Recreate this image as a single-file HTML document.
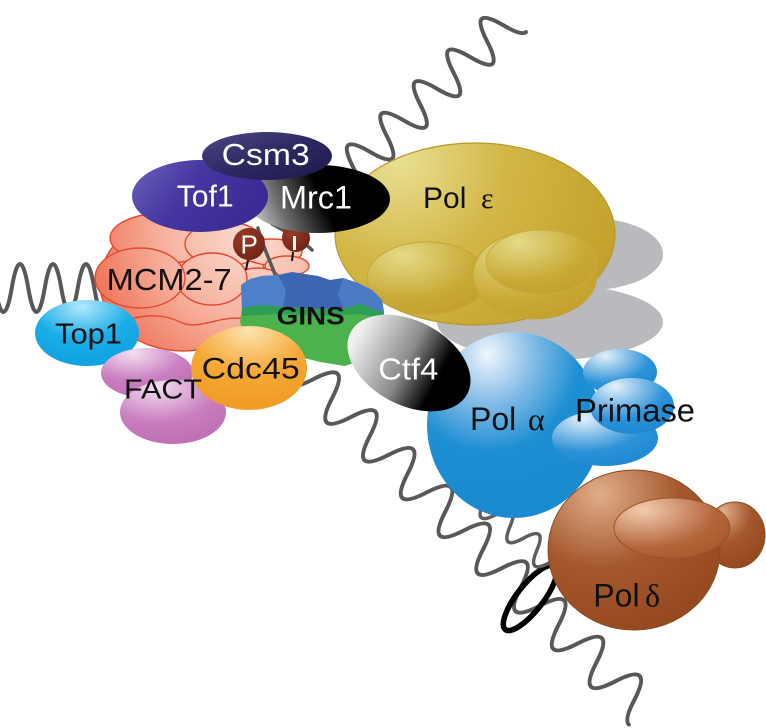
<!DOCTYPE html>
<html>
<head>
<meta charset="utf-8">
<style>
  html,body{margin:0;padding:0;background:#fff;}
  svg{display:block;}
  text{font-family:"Liberation Sans", Arial, sans-serif;}
  .g{font-family:"Liberation Serif", serif;}
</style>
</head>
<body>
<svg width="766" height="728" viewBox="0 0 766 728" xmlns="http://www.w3.org/2000/svg">
<defs>
  <radialGradient id="gPolE" gradientUnits="userSpaceOnUse" cx="400" cy="160" r="240">
    <stop offset="0" stop-color="#e9df92"/>
    <stop offset="0.45" stop-color="#d2b645"/>
    <stop offset="1" stop-color="#c29f2a"/>
  </radialGradient>
  <radialGradient id="gLobe" cx="0.3" cy="0.2" r="0.85">
    <stop offset="0" stop-color="#e4da88"/>
    <stop offset="0.7" stop-color="#c9aa36"/>
    <stop offset="1" stop-color="#c3a12c"/>
  </radialGradient>
  <radialGradient id="gMCM" gradientUnits="userSpaceOnUse" cx="250" cy="235" r="170">
    <stop offset="0" stop-color="#fbdcd0"/>
    <stop offset="0.5" stop-color="#f7b3a0"/>
    <stop offset="1" stop-color="#ee6f53"/>
  </radialGradient>
  <linearGradient id="gCsm3" x1="0" y1="0" x2="1" y2="1">
    <stop offset="0" stop-color="#4d4a88"/>
    <stop offset="0.5" stop-color="#2d2862"/>
    <stop offset="1" stop-color="#1e1a4a"/>
  </linearGradient>
  <linearGradient id="gTof1" x1="0" y1="0" x2="1" y2="0.4">
    <stop offset="0" stop-color="#6b62ba"/>
    <stop offset="0.5" stop-color="#4535a0"/>
    <stop offset="1" stop-color="#3c2b94"/>
  </linearGradient>
  <linearGradient id="gMrc1" gradientUnits="userSpaceOnUse" x1="250" y1="218" x2="318" y2="188">
    <stop offset="0" stop-color="#d0d0d0"/>
    <stop offset="0.45" stop-color="#6a6a6a"/>
    <stop offset="1" stop-color="#000"/>
  </linearGradient>
  <linearGradient id="gCtf4" gradientUnits="userSpaceOnUse" x1="350" y1="0" x2="462" y2="0">
    <stop offset="0" stop-color="#f0f0f0"/>
    <stop offset="0.5" stop-color="#8a8a8a"/>
    <stop offset="0.82" stop-color="#000"/>
    <stop offset="1" stop-color="#000"/>
  </linearGradient>
  <radialGradient id="gTop1" cx="0.45" cy="0.1" r="0.8">
    <stop offset="0" stop-color="#b2e8fb"/>
    <stop offset="0.6" stop-color="#1aaee9"/>
    <stop offset="1" stop-color="#12a4e2"/>
  </radialGradient>
  <radialGradient id="gFACT" cx="0.35" cy="0.1" r="0.85">
    <stop offset="0" stop-color="#f4dff0"/>
    <stop offset="0.65" stop-color="#c97ec0"/>
    <stop offset="1" stop-color="#c072b7"/>
  </radialGradient>
  <radialGradient id="gCdc45" cx="0.5" cy="0.05" r="0.85">
    <stop offset="0" stop-color="#fde3b0"/>
    <stop offset="0.6" stop-color="#f5a835"/>
    <stop offset="1" stop-color="#f19e28"/>
  </radialGradient>
  <radialGradient id="gPolA" cx="0.35" cy="0.12" r="0.8">
    <stop offset="0" stop-color="#f0f6fc"/>
    <stop offset="0.3" stop-color="#8dc0e9"/>
    <stop offset="0.65" stop-color="#1f8fd3"/>
    <stop offset="1" stop-color="#1b8bd0"/>
  </radialGradient>
  <radialGradient id="gPrim" cx="0.3" cy="0.15" r="0.85">
    <stop offset="0" stop-color="#e4f0fa"/>
    <stop offset="0.7" stop-color="#2c92d8"/>
    <stop offset="1" stop-color="#1f8bd3"/>
  </radialGradient>
  <radialGradient id="gPolD" cx="0.3" cy="0.15" r="0.85">
    <stop offset="0" stop-color="#e0ae8a"/>
    <stop offset="0.55" stop-color="#a4572c"/>
    <stop offset="1" stop-color="#974a20"/>
  </radialGradient>
  <radialGradient id="gPolDl" cx="0.25" cy="0.2" r="0.9">
    <stop offset="0" stop-color="#f2ccb0"/>
    <stop offset="0.7" stop-color="#b4653a"/>
    <stop offset="1" stop-color="#a85a2e"/>
  </radialGradient>
  <radialGradient id="gP" cx="0.35" cy="0.3" r="0.8">
    <stop offset="0" stop-color="#9a3a28"/>
    <stop offset="1" stop-color="#6e2315"/>
  </radialGradient>
</defs>

<!-- Pol epsilon shadow -->
<g fill="#b9babd">
  <ellipse cx="590" cy="254" rx="73" ry="36"/>
  <ellipse cx="550" cy="322" rx="113" ry="38"/>
</g>

<!-- DNA strands (back) -->
<g fill="none" stroke="#585858" stroke-width="4" stroke-linecap="round">
  <path d="M-4.75,288 Q3.5,336 11.75,288 T28.25,288 T44.75,288 T61.25,288 T77.75,288 T94.25,288 T110.75,288 T127.25,288"/>
  <path transform="translate(348.7,172.2) rotate(-43.4)" d="M-16.5,0 Q-5,40 6.5,0 T29.5,0 T52.5,0 T75.5,0 T98.5,0 T121.5,0 T144.5,0 T167.5,0 T190.5,0 T213.5,0 Q219.25,20 225,20"/>
  <path transform="translate(334,400) rotate(45)" d="M-56.05,0 Q-42.7,42 -29.35,0 T-2.65,0 T24.05,0 T50.75,0 T77.45,0 T104.15,0 T130.85,0 T157.55,0 T184.25,0 T210.95,0 T237.65,0 T264.35,0 T291.05,0 T317.75,0 T344.45,0 T371.15,0 T397.85,0 T424.55,0 Q431.2,21 437.9,21"/>
</g>

<!-- ring -->
<ellipse cx="530" cy="598" rx="40" ry="13" transform="rotate(-52 530 598)" fill="none" stroke="#000" stroke-width="5.5"/>

<!-- second strand -->
<path transform="translate(470,490) rotate(42)" d="M0,0 Q9,-26 18,0 T36,0 T54,0 T72,0 T90,0 T108,0 T126,0 T144,0 T162,0" fill="none" stroke="#5e5e5e" stroke-width="3.5" stroke-linecap="round"/>

<!-- Pol epsilon -->
<ellipse cx="475" cy="234" rx="140" ry="91" fill="url(#gPolE)" stroke="#b8992c" stroke-width="1.2"/>
<ellipse cx="427" cy="278" rx="60" ry="36" fill="url(#gLobe)" stroke="#c4a53a" stroke-width="1"/>
<ellipse cx="535" cy="275" rx="62" ry="44" fill="url(#gLobe)" stroke="#c4a53a" stroke-width="1"/>
<ellipse cx="541" cy="262" rx="55" ry="32" fill="url(#gLobe)" stroke="#c9ab40" stroke-width="1"/>

<!-- MCM2-7 -->
<g fill="url(#gMCM)" stroke="#e5482e" stroke-width="1.4">
  <ellipse cx="183" cy="283" rx="83" ry="68"/>
  <ellipse cx="165" cy="238" rx="55" ry="25"/>
  <ellipse cx="225" cy="244" rx="40" ry="22"/>
  <ellipse cx="272" cy="252" rx="30" ry="13"/>
  <ellipse cx="287" cy="266" rx="22" ry="10"/>
  <ellipse cx="258" cy="279" rx="22" ry="11"/>
  <ellipse cx="212" cy="279" rx="35" ry="26"/>
  <ellipse cx="140" cy="278" rx="45" ry="30"/>
  <path d="M110,330 C130,314 160,312 180,322 C200,332 222,312 252,320" fill="none"/>
</g>

<!-- DNA bits near MCM -->
<g fill="none" stroke="#585858" stroke-width="3.5" stroke-linecap="round">
  <path d="M258,228 C262,245 270,260 279,285"/>
  <path d="M272,224 C290,234 302,240 312,250"/>
</g>

<!-- P (hidden behind Mrc1) -->
<circle cx="296" cy="238" r="14" fill="url(#gP)"/>
<rect x="293" y="236" width="3" height="14" fill="#fff"/>
<line x1="293" y1="252" x2="292" y2="261" stroke="#111" stroke-width="2"/>

<!-- Mrc1, Tof1, Csm3 -->
<ellipse cx="318" cy="199" rx="72" ry="34" fill="url(#gMrc1)"/>
<ellipse cx="200" cy="196" rx="68" ry="36" fill="url(#gTof1)"/>
<ellipse cx="267" cy="156" rx="65" ry="24" fill="url(#gCsm3)"/>

<!-- P1 -->
<circle cx="249" cy="244" r="16" fill="url(#gP)"/>
<line x1="248" y1="260" x2="246" y2="270" stroke="#111" stroke-width="2"/>

<!-- GINS -->
<path d="M241,285 L250,279 L262,276 L278,275 L292,272 L305,274 L318,276 L330,280 L343,278 L358,283 L372,290 L382,300 L384,312 L380,322 L360,322 L330,318 L300,318 L270,322 L243,322 Z" fill="#3b66b4"/>
<path d="M241,285 L250,279 L262,276 L278,275 L286,290 L282,312 L242,312 Z" fill="#4d80cb"/>
<path d="M343,278 L358,283 L372,290 L382,300 L384,312 L345,312 L338,295 Z" fill="#4b7bc6"/>
<path d="M242,308 L260,305 L290,307 L320,309 L345,308 L360,304 L375,310 L384,312 L382,330 L370,345 L362,360 L345,366 L320,362 L300,357 L270,352 L245,340 L240,322 Z" fill="#4cb24e"/>
<path d="M242,308 L260,305 L290,307 L320,309 L345,308 L360,304 L375,310 L384,312 L383,318 L360,314 L320,316 L280,314 L242,316 Z" fill="#2f9e55"/>

<!-- Top1, FACT, Cdc45 -->
<ellipse cx="87" cy="333" rx="52" ry="33" fill="url(#gTop1)"/>
<ellipse cx="147" cy="373" rx="46" ry="25" fill="url(#gFACT)"/>
<ellipse cx="173" cy="412" rx="53" ry="32" fill="url(#gFACT)"/>
<ellipse cx="249" cy="368" rx="58" ry="42" fill="url(#gCdc45)"/>

<!-- Pol alpha + primase -->
<ellipse cx="514" cy="425" rx="87" ry="93" fill="url(#gPolA)"/>
<ellipse cx="620" cy="372" rx="37" ry="23" fill="url(#gPrim)"/>
<ellipse cx="605" cy="438" rx="53" ry="28" fill="url(#gPrim)"/>
<ellipse cx="632" cy="406" rx="42" ry="28" fill="url(#gPrim)"/>

<!-- Ctf4 -->
<ellipse cx="409" cy="363" rx="66" ry="42" transform="rotate(28 409 363)" fill="url(#gCtf4)"/>

<!-- Pol delta -->
<ellipse cx="735" cy="535" rx="30" ry="33" fill="url(#gPolD)" stroke="#8b4a22" stroke-width="1"/>
<ellipse cx="634" cy="550" rx="86" ry="80" fill="url(#gPolD)" stroke="#8b4a22" stroke-width="1"/>
<ellipse cx="672" cy="528" rx="58" ry="30" fill="url(#gPolDl)" stroke="#9c5228" stroke-width="1"/>

<!-- Labels -->
<g fill="#fff">
  <text x="221.7" y="165" font-size="31" textLength="88" lengthAdjust="spacingAndGlyphs">Csm3</text>
  <text x="176.7" y="206.7" font-size="31" textLength="57" lengthAdjust="spacingAndGlyphs">Tof1</text>
  <text x="280" y="208.3" font-size="32" textLength="72" lengthAdjust="spacingAndGlyphs">Mrc1</text>
  <text x="378.3" y="379.3" font-size="31" textLength="60" lengthAdjust="spacingAndGlyphs">Ctf4</text>
  <text x="240.5" y="253.5" font-size="26">P</text>
</g>
<g fill="#111">
  <text x="106.7" y="290" font-size="31" textLength="125" lengthAdjust="spacingAndGlyphs">MCM2-7</text>
  <text x="55" y="343.3" font-size="29" textLength="67" lengthAdjust="spacingAndGlyphs">Top1</text>
  <text x="124" y="398.3" font-size="28" textLength="78" lengthAdjust="spacingAndGlyphs">FACT</text>
  <text x="201.7" y="378.3" font-size="30" textLength="98" lengthAdjust="spacingAndGlyphs">Cdc45</text>
  <text x="276.7" y="324.5" font-size="25" font-weight="bold" textLength="68" lengthAdjust="spacingAndGlyphs">GINS</text>
  <text x="423" y="208" font-size="30">Pol</text>
  <text x="481" y="208" font-size="30" class="g">ε</text>
  <text x="470" y="430" font-size="32">Pol</text>
  <text x="528" y="430" font-size="32" class="g">α</text>
  <text x="575" y="421.7" font-size="32" textLength="120" lengthAdjust="spacingAndGlyphs">Primase</text>
  <text x="593.3" y="606.7" font-size="32">Pol</text>
  <text x="645" y="606.7" font-size="32" class="g">δ</text>
</g>
</svg>
</body>
</html>
